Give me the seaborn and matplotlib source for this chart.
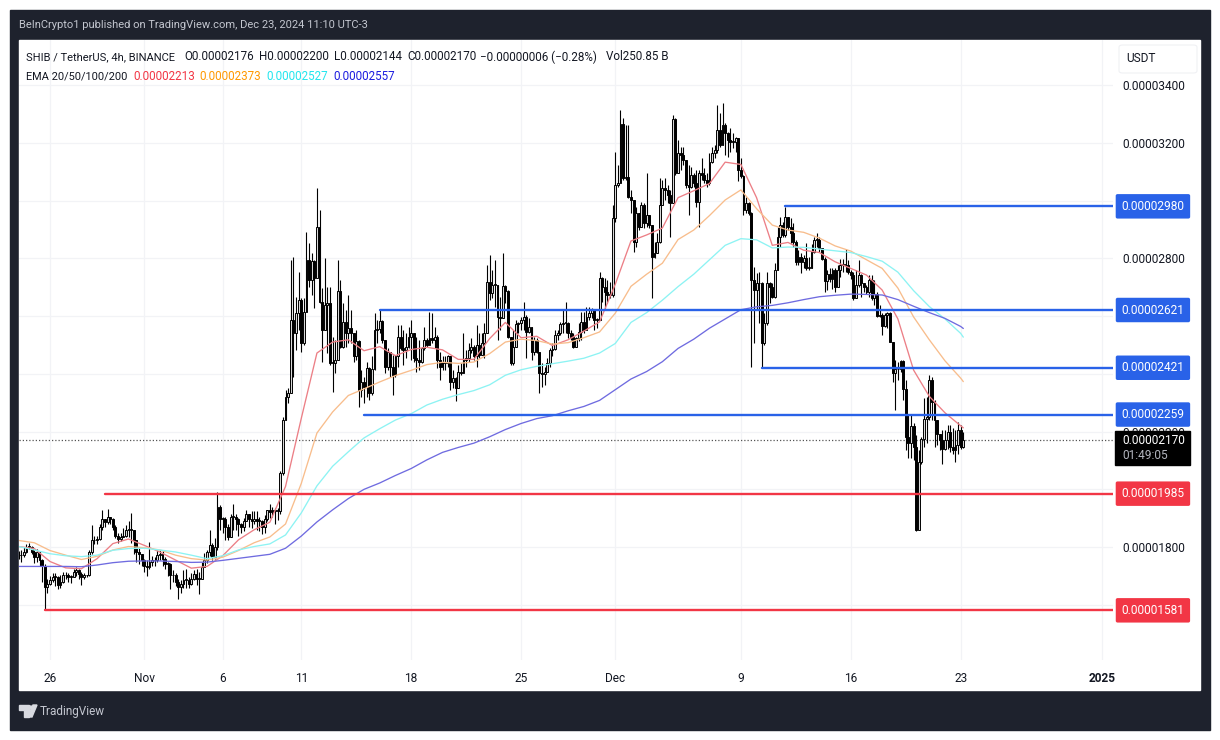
import numpy as np
import pandas as pd
import seaborn as sns
import matplotlib.pyplot as plt
from matplotlib.patches import Rectangle, FancyBboxPatch, Polygon, Circle

# prices are in units of 0.00000001 USDT, one row per day (6 x 4h candles from Oct 24)
close = [
    1771,1771,1783,1800,1802,1783, 1765,1783,1754,1736,1662,1673, 1685,1696,1696,1667,1679,1702,
    1702,1696,1696,1713,1719,1708, 1696,1702,1702,1783,1823,1823, 1829,1869,1898,1887,1904,1898,
    1869,1840,1829,1835,1840,1858, 1858,1858,1823,1783,1777,1754, 1736,1731,1748,1754,1754,1771,
    1777,1760,1742,1742,1702,1702, 1679,1662,1673,1685,1685,1673, 1690,1708,1690,1690,1731,1754,
    1783,1806,1765,1800,1938,1898, 1898,1869,1835,1904,1904,1898, 1881,1869,1892,1915,1898,1892,
    1898,1892,1892,1869,1898,1927, 1921,1927,1925,1925,2056,2240,
    2321,2333,2587,2540,2610,2656, 2506,2615,2794,2725,2789,2731, 2907,2650,2552,2639,2644,2437,
    2437,2448,2688,2494,2581,2540, 2558,2540,2460,2515,2344,2373, 2356,2419,2333,2417,2552,2554,
    2584,2517,2425,2477,2425,2396, 2460,2529,2488,2483,2494,2529, 2540,2454,2448,2442,2488,2517,
    2500,2523,2517,2529,2448,2425, 2442,2439,2460,2373,2385,2350, 2408,2402,2448,2454,2483,2494,
    2460,2500,2465,2506,2540,2719, 2679,2708,2708,2598,2592,2704, 2688,2529,2439,2494,2573,2575,
    2587,2598,2546,2563,2477,2517, 2477,2402,2400,2408,2436,2483, 2485,2535,2540,2573,2575,2575,
    2540,2529,2494,2523,2546,2581, 2552,2598,2610,2621,2587,2587, 2731,2702,2685,2673,2673,2939,
    3054,3060,3264,3077,3081,3014, 3002,2858,2956,2910,2985,2921, 2950,2915,2806,2817,2858,2985,
    3042,3037,3019,2991,3281,3094, 3164,3158,3141,3054,3048,3089, 3060,2996,3094,3089,3071,3060,
    3135,3164,3175,3244,3192,3262, 3233,3210,3204,3204,3216,3106, 3085,2967,2991,2956,2725,2690,
    2713,2713,2506,2575,2713,2702, 2667,2760,2875,2915,2881,2944, 2910,2887,2858,2788,2806,2788,
    2800,2768,2768,2822,2863,2863, 2834,2799,2722,2747,2727,2759, 2701,2759,2776,2780,2776,2753,
    2742,2661,2707,2742,2713,2701, 2684,2724,2661,2678,2600,2603, 2565,2603,2609,2511,2403,2418,
    2415,2445,2349,2182,2159,2219, 2147,1859,2095,2176,2245,2251, 2380,2303,2240,2193,2170,2141,
    2170,2199,2147,2136,2153,2207, 2147,2170,
]
high = [
    1785,1790,1800,1810,1815,1805, 1790,1795,1785,1760,1740,1690, 1700,1710,1712,1700,1705,1715,
    1715,1712,1705,1725,1730,1725, 1715,1710,1705,1790,1875,1840, 1840,1880,1927,1890,1933,1905,
    1900,1875,1850,1850,1865,1875, 1890,1919,1860,1800,1800,1775, 1760,1755,1817,1770,1765,1790,
    1790,1790,1765,1750,1745,1720, 1712,1690,1685,1720,1725,1695, 1710,1722,1725,1715,1750,1780,
    1790,1860,1815,1830,1990,1945, 1905,1905,1880,1915,1950,1915, 1900,1885,1900,1930,1915,1925,
    1925,1925,1905,1895,1910,1930, 1950,1940,1935,1935,2065,2250,
    2344,2350,2794,2804,2667,2754, 2662,2662,2892,2852,2817,2794, 3043,2967,2696,2800,2702,2702,
    2529,2517,2794,2725,2644,2621, 2673,2621,2540,2552,2517,2413, 2390,2442,2425,2460,2610,2587,
    2621,2587,2517,2488,2471,2465, 2465,2569,2569,2552,2540,2563, 2587,2540,2529,2517,2494,2563,
    2523,2615,2610,2563,2535,2477, 2460,2460,2465,2460,2413,2390, 2431,2436,2540,2483,2506,2523,
    2500,2569,2540,2540,2575,2777, 2812,2760,2794,2708,2667,2817, 2708,2690,2523,2552,2587,2581,
    2598,2650,2604,2592,2523,2529, 2523,2471,2436,2425,2454,2488, 2506,2552,2552,2581,2621,2650,
    2581,2552,2540,2529,2575,2615, 2615,2633,2633,2627,2615,2592, 2754,2737,2731,2725,2719,2985,
    3169,3123,3314,3285,3262,3262, 3037,3002,2979,2956,2996,2991, 3094,2950,2910,2858,2887,3077,
    3071,3077,3054,3037,3296,3285, 3210,3187,3187,3141,3123,3117, 3094,3106,3106,3146,3112,3094,
    3164,3187,3192,3331,3302,3339, 3268,3239,3250,3233,3221,3216, 3146,3089,3014,2996,2962,2771,
    2748,2754,2719,2610,2754,2719, 2713,2783,2910,2944,2927,2979, 2944,2939,2921,2864,2829,2817,
    2812,2852,2806,2851,2874,2886, 2874,2834,2805,2759,2765,2765, 2765,2776,2799,2799,2831,2794,
    2759,2753,2759,2794,2747,2713, 2707,2742,2742,2724,2684,2638, 2609,2609,2615,2615,2511,2447,
    2441,2447,2447,2378,2257,2257, 2228,2188,2136,2182,2315,2320, 2395,2390,2309,2222,2188,2205,
    2205,2222,2222,2211,2205,2234, 2222,2200,
]
low = [
    1760,1750,1765,1780,1795,1775, 1745,1750,1735,1680,1581,1640, 1670,1680,1665,1655,1660,1675,
    1690,1680,1675,1695,1700,1690, 1670,1690,1695,1700,1775,1810, 1810,1825,1860,1870,1880,1880,
    1860,1830,1815,1820,1835,1835, 1835,1815,1775,1750,1740,1735, 1715,1700,1725,1735,1735,1750,
    1755,1735,1725,1700,1655,1680, 1665,1621,1640,1660,1660,1660, 1670,1685,1670,1638,1690,1735,
    1745,1770,1755,1760,1790,1860, 1850,1825,1825,1850,1860,1860, 1840,1850,1855,1890,1870,1865,
    1880,1860,1855,1845,1850,1890, 1900,1905,1880,1895,1915,2050,
    2240,2300,2333,2390,2483,2552, 2477,2500,2621,2702,2673,2627, 2737,2644,2442,2552,2471,2431,
    2338,2402,2448,2488,2488,2494, 2506,2506,2442,2448,2286,2321, 2298,2321,2310,2327,2413,2506,
    2540,2506,2402,2413,2390,2327, 2390,2425,2483,2431,2454,2488, 2448,2442,2408,2413,2436,2483,
    2494,2500,2506,2488,2419,2379, 2413,2413,2425,2344,2350,2307, 2356,2396,2413,2425,2442,2471,
    2448,2425,2454,2465,2454,2540, 2656,2662,2633,2517,2552,2592, 2644,2523,2431,2431,2494,2540,
    2552,2552,2454,2540,2448,2465, 2471,2335,2356,2361,2408,2425, 2460,2483,2517,2535,2540,2540,
    2523,2517,2488,2494,2512,2517, 2540,2552,2587,2592,2552,2558, 2587,2650,2621,2644,2662,2667,
    2927,3048,3060,3071,3071,3008, 2956,2823,2840,2898,2910,2904, 2910,2904,2662,2800,2817,2852,
    2985,3002,2991,2875,2991,3089, 3094,3106,3123,3042,2950,3042, 3048,2979,2910,3071,3060,3048,
    3054,3129,3146,3164,3187,3233, 3158,3152,3169,3181,3169,3066, 3077,2950,2956,2950,2425,2506,
    2621,2575,2425,2500,2569,2644, 2662,2662,2760,2840,2875,2875, 2898,2852,2840,2777,2777,2748,
    2765,2760,2760,2765,2817,2840, 2822,2794,2684,2690,2719,2695, 2684,2701,2736,2753,2753,2747,
    2730,2655,2667,2701,2667,2684, 2678,2667,2655,2638,2597,2597, 2534,2563,2557,2511,2372,2274,
    2378,2407,2309,2136,2107,2107, 2101,1856,1859,2089,2147,2159, 2240,2240,2147,2153,2136,2089,
    2136,2141,2130,2124,2095,2124, 2141,2144,
]

# EMAs read once per day, plus the last candle
ema_bars = list(range(0, 361, 6)) + [361]
ema20 = [
    1802,1795,1750,1728,1725,1760,1812,1828,1806,1783,1755,1727,1733,1770,1825,1860,1886,2010,2245,2472,
    2510,2518,2480,2494,2463,2484,2492,2483,2450,2450,2522,2578,2525,2530,2498,2518,2548,2580,2710,2860,
    2881,2905,3010,3034,3059,3133,3125,3010,2845,2855,2828,2820,2788,2765,2742,2690,2590,2413,2322,2265,
    2220,2213,
]
ema50 = [
    1823,1815,1788,1772,1757,1768,1790,1802,1798,1790,1772,1760,1755,1765,1788,1815,1835,1880,2020,2195,
    2268,2325,2348,2372,2394,2412,2432,2440,2436,2441,2470,2510,2520,2515,2503,2508,2525,2545,2610,2703,
    2745,2783,2865,2898,2948,3002,3037,2972,2915,2898,2890,2870,2843,2825,2795,2765,2697,2597,2518,2445,
    2385,2373,
]
ema100 = [
    1802,1790,1777,1770,1767,1772,1789,1795,1796,1790,1783,1772,1760,1770,1790,1802,1811,1842,1918,2012,
    2080,2130,2178,2210,2240,2262,2292,2312,2328,2342,2362,2395,2414,2426,2435,2444,2454,2472,2505,2578,
    2612,2655,2702,2745,2795,2845,2868,2864,2836,2839,2838,2832,2826,2820,2806,2790,2752,2688,2633,2590,
    2540,2527,
]
ema200 = [
    1733,1733,1733,1733,1732,1738,1746,1751,1752,1752,1750,1747,1748,1754,1761,1768,1775,1796,1838,1887,
    1929,1968,2000,2022,2048,2072,2102,2128,2145,2160,2182,2207,2228,2245,2255,2272,2287,2308,2345,2382,
    2408,2442,2488,2520,2558,2590,2622,2632,2637,2646,2657,2667,2672,2676,2675,2673,2657,2634,2612,2592,
    2564,2557,
]

level_prices = [2980, 2621, 2421, 2259, 1985, 1581]
level_starts = [293, 138, 284, 132, 33, 10]
resistance_count = 4

price_ticks = [3400, 3200, 3000, 2800, 2600, 2400, 2200, 2000, 1800, 1600]
date_bars = [12, 48, 78, 108, 150, 192, 228, 276, 318, 360, 414]
date_labels = ["26", "Nov", "6", "11", "18", "25", "Dec", "9", "16", "23", "2025"]
last_price = 2170

W, H = 1220, 740
DARK = "#1e222d"
BLUE = "#2962e8"
RED = "#f23645"
GRID = "#f2f3f6"
TEXT = "#131722"
FS = 8.6


def px_text(x, y, s, color=TEXT, size=FS, **kw):
    fig.text(x / W, 1 - y / H, s, color=color, fontsize=size, va="center", **kw)


sns.set_theme(style="white")
plt.rcParams["font.family"] = ["Roboto", "DejaVu Sans"]

fig = plt.figure(figsize=(W / 100, H / 100), dpi=100, facecolor="white")

# dark frame and white panel
fig.patches.append(Rectangle((10 / W, 1 - 730 / H), 1200 / W, 720 / H, transform=fig.transFigure, color=DARK, zorder=-3))
fig.patches.append(Rectangle((19 / W, 1 - 690 / H), 1181 / W, 650 / H, transform=fig.transFigure, color="white", zorder=-2))

ax = fig.add_axes([19 / W, 1 - 660 / H, 1094 / W, 620 / H])
ax.set_facecolor("none")
ax.set_xlim(0.15, 418.2)
ax.set_ylim(1409, 3556)
sns.despine(ax=ax, left=True, bottom=True, right=True, top=True)

candles = pd.DataFrame({"close": close, "high": high, "low": low})
candles["open"] = candles["close"].shift(1).fillna(candles["close"])
candles["high"] = candles[["high", "open", "close"]].max(axis=1)
candles["low"] = candles[["low", "open", "close"]].min(axis=1)
bars = np.arange(len(candles))
up = candles["close"] >= candles["open"]

ax.vlines(bars, candles["low"], candles["high"], color="black", lw=0.8, zorder=2)
ax.bar(bars, (candles["close"] - candles["open"]).abs().clip(lower=3), bottom=candles[["open", "close"]].min(axis=1),
       width=0.72, color=np.where(up, "#d8d8d8", "black"), edgecolor="black", linewidth=0.7, zorder=3)

emas = pd.DataFrame({"bar": ema_bars, "EMA 20": ema20, "EMA 50": ema50, "EMA 100": ema100, "EMA 200": ema200})
ema_colors = {"EMA 20": "#ec7f86", "EMA 50": "#f8bd8c", "EMA 100": "#8df3f3", "EMA 200": "#6f6be0"}
for name, col in ema_colors.items():
    sns.lineplot(data=emas, x="bar", y=name, color=col, lw=0.95, ax=ax, zorder=4)

ax.axhline(last_price, color="#555555", lw=0.9, ls=(0, (1, 1.6)), zorder=1)

levels = pd.DataFrame({"price": level_prices, "start": level_starts})
for n, row in levels.iterrows():
    col = BLUE if n < resistance_count else RED
    sns.lineplot(x=[row["start"], 418.2], y=[row["price"], row["price"]], color=col, lw=1.7, ax=ax, zorder=5)
    ax.text(1.0365, row["price"], f"0.{int(row['price']):08d}", transform=ax.get_yaxis_transform(), color="white",
            fontsize=FS, ha="center", va="center", zorder=10, clip_on=False,
            bbox=dict(boxstyle="round,pad=0.48,rounding_size=0.15", fc=col, ec="none"))

ax.set_xlabel("")
ax.set_ylabel("")
ax.set_xticks(date_bars)
ax.set_xticklabels(date_labels, color=TEXT, fontsize=FS)
ax.get_xticklabels()[-1].set_fontweight("bold")
ax.set_yticks(price_ticks)
ax.set_yticklabels([f"0.{p:08d}" for p in price_ticks], color=TEXT, fontsize=FS)
ax.yaxis.tick_right()
ax.tick_params(axis="y", length=0, pad=7)
ax.tick_params(axis="x", length=0, pad=9)
ax.grid(True, color=GRID, lw=0.9, zorder=0)
ax.set_axisbelow(True)

# last price tag
fig.patches.append(Rectangle((1115 / W, 1 - 465 / H), 75 / W, 34 / H, transform=fig.transFigure, color="black", zorder=8))
px_text(1122, 440, f"0.{last_price:08d}", color="white", zorder=9)
px_text(1122, 455, "01:49:05", color="#b2b5be", zorder=9)

# header rows
px_text(19, 25, "BeInCrypto1 published on TradingView.com, Dec 23, 2024 11:10 UTC-3", color="#c4c7d0", size=8.05)
px_text(26, 57, "SHIB / TetherUS, 4h, BINANCE", size=8.05)
px_text(184, 57, "O0.00002176", size=8.35)
px_text(259, 57, "H0.00002200", size=8.35)
px_text(334, 57, "L0.00002144", size=8.35)
px_text(407, 57, "C0.00002170", size=8.35)
px_text(480, 57, "−0.00000006 (−0.28%)", size=8.35)
px_text(606, 57, "Vol250.85 B", size=8.35)
px_text(26, 77, "EMA 20/50/100/200", size=7.9)
px_text(133, 77, "0.00002213", color="#f23645", size=8.35)
px_text(199, 77, "0.00002373", color="#ff9800", size=8.35)
px_text(266, 77, "0.00002527", color="#22e6ee", size=8.35)
px_text(333, 77, "0.00002557", color="#1c1ce0", size=8.35)

# currency box
fig.patches.append(FancyBboxPatch((1119 / W, 1 - 73 / H), 78 / W, 28 / H, boxstyle="round,pad=0,rounding_size=0.003",
                                  transform=fig.transFigure, fc="white", ec="#f0f1f4", lw=0.8, zorder=6))
px_text(1126, 59, "USDT", zorder=7)

# footer logo
fig.patches.append(Polygon([(19 / W, 1 - 705 / H), (29 / W, 1 - 705 / H), (29 / W, 1 - 717 / H), (24 / W, 1 - 717 / H),
                            (24 / W, 1 - 710 / H), (19 / W, 1 - 710 / H)], closed=True, transform=fig.transFigure, color="#d8dae0"))
fig.patches.append(Polygon([(33 / W, 1 - 705 / H), (37 / W, 1 - 705 / H), (32 / W, 1 - 717 / H), (27.5 / W, 1 - 717 / H)],
                           closed=True, transform=fig.transFigure, color="#d8dae0"))
fig.patches.append(Circle((30.5 / W, 1 - 707.5 / H), 2.4 / W, transform=fig.transFigure, color="#d8dae0"))
px_text(40, 711.5, "TradingView", color="#c4c7d0", size=8.5)

fig.savefig("out.png", dpi=100, facecolor="white")
